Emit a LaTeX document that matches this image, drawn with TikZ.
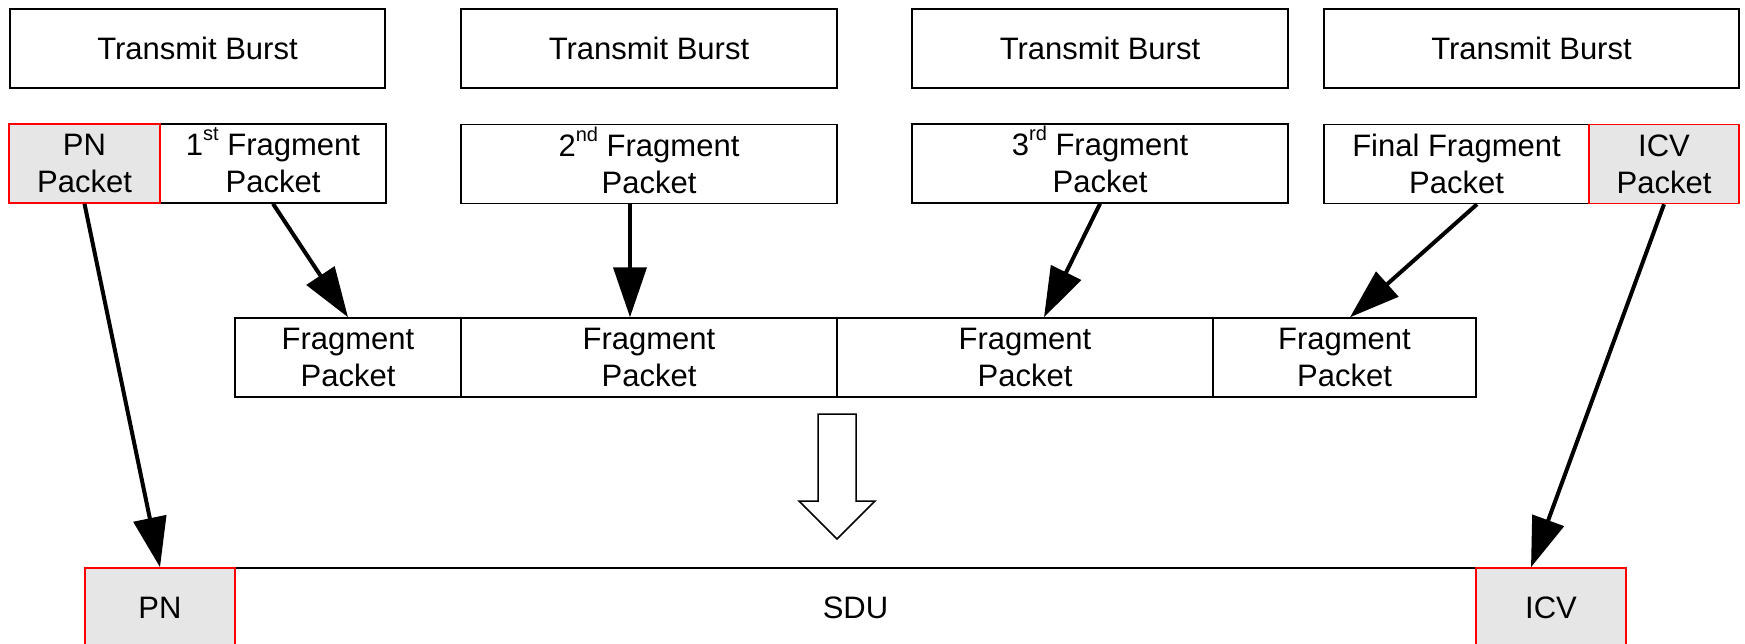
\documentclass[tikz,border=0pt]{standalone}
\usepackage{fontspec}
\setmainfont{Liberation Sans}
\usetikzlibrary{arrows.meta}
\definecolor{hdrgray}{HTML}{E6E6E6}
% small raised ordinal suffix that leaves the line height alone
\newcommand\ordsup[1]{\raisebox{15pt}[0pt][0pt]{\fontsize{20}{20}\selectfont #1}}
\begin{document}
\begin{tikzpicture}[x=1pt,y=-1pt,
  cell/.style={draw=black, line width=1.5pt, fill=white, inner sep=0pt,
    minimum height=79pt, align=center, font=\fontsize{31}{37}\selectfont},
  redcell/.style={cell, draw=red, fill=hdrgray},
  link/.style={line width=4pt, -{Triangle[length=50pt,width=33pt]}},
]
\useasboundingbox (0,0) rectangle (1745,643);
\clip (0,0) rectangle (1745,643);

% transmit bursts
\node[cell, minimum width=375pt] (tb1) at (197.5,48.5) {Transmit Burst};
\node[cell, minimum width=376pt] (tb2) at (649,48.5) {Transmit Burst};
\node[cell, minimum width=376pt] (tb3) at (1100,48.5) {Transmit Burst};
\node[cell, minimum width=415pt] (tb4) at (1531.5,48.5) {Transmit Burst};

% packets carried in each burst
\node[cell, minimum width=226pt] (f1) at (273,163.5) {1\ordsup{st} Fragment\\Packet};
\node[cell, minimum width=376pt] (f2) at (649,164) {2\ordsup{nd} Fragment\\Packet};
\node[cell, minimum width=376pt] (f3) at (1100,163.5) {3\ordsup{rd} Fragment\\Packet};
\node[cell, minimum width=265pt] (ff) at (1456.5,164) {Final Fragment\\Packet};
\node[redcell, minimum width=151pt] (pnp) at (84.5,163.5) {PN\\Packet};
\node[redcell, minimum width=150pt] (icvp) at (1664,164) {ICV\\Packet};

% reassembled fragment row
\node[cell, minimum width=226pt] (c1) at (348,357.5) {Fragment\\Packet};
\node[cell, minimum width=376pt] (c2) at (649,357.5) {Fragment\\Packet};
\node[cell, minimum width=376pt] (c3) at (1025,357.5) {Fragment\\Packet};
\node[cell, minimum width=263pt] (c4) at (1344.5,357.5) {Fragment\\Packet};

% resulting SDU
\node[cell, minimum width=1241pt] (sdu) at (855.5,607.5) {SDU};
\node[redcell, minimum width=150pt] (pn) at (160,607.5) {PN};
\node[redcell, minimum width=150pt] (icv) at (1551,607.5) {ICV};

% connectors
\draw[link] (pnp.south) -- (pn.north);
\draw[link] (f1.south) -- (c1.north);
\draw[link] ([xshift=-19pt]f2.south) -- ([xshift=-19pt]c2.north);
\draw[link] (f3.south) -- ([xshift=19pt]c3.north);
\draw[link] ([xshift=20.5pt]ff.south) -- ([xshift=5.5pt]c4.north);
\draw[link] (icvp.south) -- ([xshift=-20pt]icv.north);

% hollow block arrow
\draw[line width=1.5pt, fill=white] (818,414) -- (856,414) -- (856,501) -- (875,501)
  -- (837,539) -- (799,501) -- (818,501) -- cycle;
\end{tikzpicture}
\end{document}
